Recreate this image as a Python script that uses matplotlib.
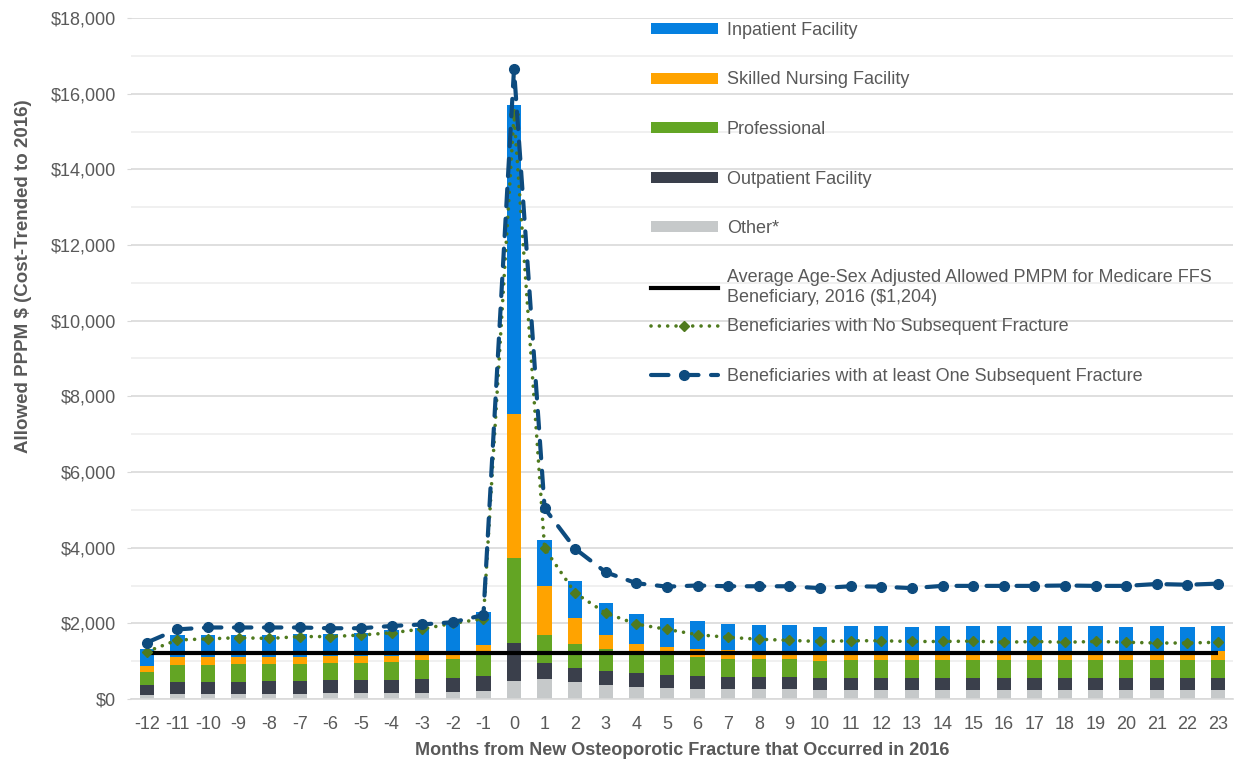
import numpy as np
import matplotlib
matplotlib.use("Agg")
import matplotlib.pyplot as plt
from matplotlib.patches import Patch
from matplotlib.lines import Line2D
from matplotlib.ticker import MultipleLocator, FuncFormatter

plt.rcParams['font.family'] = ['Liberation Sans', 'DejaVu Sans']
plt.rcParams['axes.unicode_minus'] = False

# months relative to the fracture
months = np.arange(-12, 24)

# stacked bar components, allowed PPPM $
other = [110, 130, 130, 130, 130, 130, 150, 150, 170, 170, 190, 210,
         470, 540, 440, 370, 320, 290, 270, 260, 260, 260, 250, 250,
         250, 250, 250, 250, 250, 250, 250, 250, 250, 250, 250, 250]
outpatient = [250, 330, 330, 330, 340, 350, 340, 340, 330, 350, 360, 390,
              1000, 420, 390, 380, 360, 340, 330, 310, 310, 310, 300, 310,
              310, 310, 310, 310, 300, 300, 300, 300, 300, 300, 300, 310]
professional = [360, 450, 450, 460, 455, 450, 450, 470, 490, 510, 520, 580,
                2260, 720, 620, 560, 570, 520, 500, 480, 480, 480, 460, 480,
                480, 480, 480, 480, 480, 480, 480, 480, 480, 480, 480, 480]
snf = [150, 200, 200, 190, 185, 180, 200, 180, 150, 120, 200, 240,
       3810, 1320, 680, 380, 210, 230, 220, 240, 230, 220, 240, 210,
       210, 210, 210, 210, 210, 210, 210, 210, 210, 210, 210, 240]
inpatient = [450, 570, 570, 580, 580, 600, 590, 610, 680, 730, 730, 880,
             8160, 1200, 980, 860, 790, 750, 740, 700, 670, 680, 660, 680,
             690, 660, 680, 680, 700, 700, 700, 690, 670, 690, 670, 660]

# line series
no_subsequent = [1250, 1560, 1590, 1620, 1600, 1650, 1650, 1690, 1750, 1850, 2000, 2120,
                 15450, 3980, 2800, 2270, 1980, 1840, 1700, 1630, 1580, 1550, 1520, 1540,
                 1540, 1520, 1520, 1530, 1500, 1520, 1500, 1520, 1500, 1480, 1480, 1500]
one_subsequent = [1490, 1840, 1890, 1890, 1890, 1890, 1870, 1870, 1930, 1970, 2030, 2220,
                  16650, 5040, 3970, 3350, 3060, 2970, 3000, 2980, 2980, 2980, 2930, 2980,
                  2970, 2930, 2990, 2990, 2990, 2990, 3000, 2990, 2990, 3040, 3020, 3050]
avg_pmpm = 1204

text_grey = '#595959'
fs = 13

fig = plt.figure(figsize=(12.35, 7.59), dpi=100)
ax = fig.add_axes([131.4 / 1235, 1 - 699 / 759, (1233.3 - 131.4) / 1235, 681 / 759])

stack = [
    (other, 'Other*', '#C6C9CA'),
    (outpatient, 'Outpatient Facility', '#3A3F4B'),
    (professional, 'Professional', '#63A524'),
    (snf, 'Skilled Nursing Facility', '#FFA300'),
    (inpatient, 'Inpatient Facility', '#0580E0'),
]
bottom = np.zeros(len(months))
bar_handles = {}
for vals, name, col in stack:
    ax.bar(months, vals, bottom=bottom, width=0.47, color=col, zorder=2)
    bar_handles[name] = Patch(facecolor=col)
    bottom += np.array(vals)

ax.hlines(avg_pmpm, months[0], months[-1], color='black', lw=3, zorder=3)
ax.plot(months, no_subsequent, color='#4F7A1E', lw=2.6,
        linestyle=(0, (0.01, 2.3)), dash_capstyle='round',
        marker='D', markersize=5, zorder=4)
ax.plot(months, one_subsequent, color='#0D4B7E', lw=3,
        linestyle=(0, (4.2, 3.0)), dash_capstyle='round',
        marker='o', markersize=7, zorder=5)

ax.set_xlim(-12.5, 23.5)
ax.set_ylim(0, 18000)
ax.set_xticks(months)
ax.yaxis.set_major_locator(MultipleLocator(2000))
ax.yaxis.set_minor_locator(MultipleLocator(1000))
ax.yaxis.set_major_formatter(FuncFormatter(lambda v, p: f'${v:,.0f}'))
ax.grid(axis='y', which='major', color='#D9D9D9', lw=1.2, zorder=0)
ax.grid(axis='y', which='minor', color='#EEEEEE', lw=1.2, zorder=0)
ax.set_axisbelow(True)
for s in ['top', 'right', 'left']:
    ax.spines[s].set_visible(False)
ax.spines['bottom'].set_color('#D9D9D9')
ax.spines['bottom'].set_linewidth(1.2)
ax.tick_params(axis='x', length=0, pad=12, labelsize=fs, labelcolor=text_grey)
ax.tick_params(axis='y', which='major', length=3, color='#D9D9D9', pad=8,
               labelsize=fs, labelcolor=text_grey)
ax.tick_params(axis='y', which='minor', length=0)

ax.set_xlabel('Months from New Osteoporotic Fracture that Occurred in 2016',
              fontsize=13, fontweight='bold', color=text_grey, labelpad=7)
ax.set_ylabel('Allowed PPPM $ (Cost-Trended to 2016)',
              fontsize=13.5, fontweight='bold', color=text_grey)
ax.yaxis.set_label_coords(-0.090, 0.621)

# legend, in two pieces so the wrapped entry keeps the even spacing
h1 = [bar_handles['Inpatient Facility'], bar_handles['Skilled Nursing Facility'],
      bar_handles['Professional'], bar_handles['Outpatient Facility'],
      bar_handles['Other*'], Line2D([], [], color='black', lw=3)]
l1 = ['Inpatient Facility', 'Skilled Nursing Facility', 'Professional',
      'Outpatient Facility', 'Other*',
      'Average Age-Sex Adjusted Allowed PMPM for Medicare FFS\nBeneficiary, 2016 ($1,204)']
leg_kw = dict(frameon=False, fontsize=fs, labelcolor=text_grey, handlelength=3.7,
              handleheight=0.55, handletextpad=0.5, borderpad=0, borderaxespad=0,
              loc='upper left', labelspacing=1.8)
leg1 = ax.legend(h1, l1, bbox_to_anchor=(651 / 1235, 1 - 22 / 759),
                 bbox_transform=fig.transFigure, **leg_kw)
ax.add_artist(leg1)

h2 = [Line2D([], [], color='#4F7A1E', lw=2.6, linestyle=(0, (0.01, 2.3)),
             dash_capstyle='round', marker='D', markersize=5),
      Line2D([], [], color='#0D4B7E', lw=3, linestyle=(0, (4.2, 3.0)),
             dash_capstyle='round', marker='o', markersize=7)]
l2 = ['Beneficiaries with No Subsequent Fracture',
      'Beneficiaries with at least One Subsequent Fracture']
ax.legend(h2, l2, bbox_to_anchor=(651 / 1235, 1 - 318.5 / 759),
          bbox_transform=fig.transFigure, **leg_kw)

fig.savefig('out.png', dpi=100)
